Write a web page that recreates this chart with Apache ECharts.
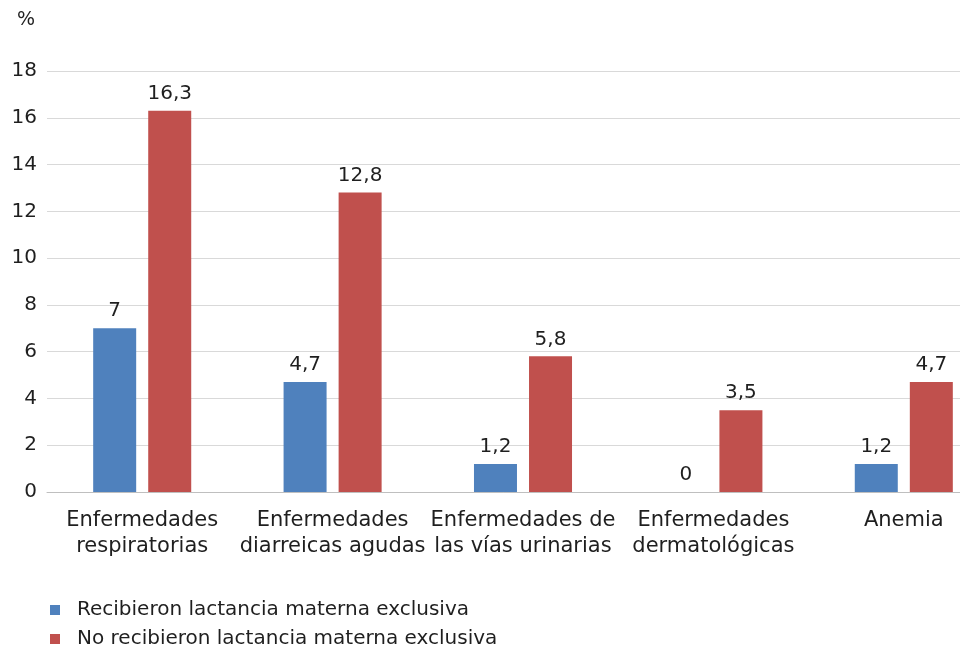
<!DOCTYPE html>
<html>
<head>
<meta charset="utf-8">
<script src="https://cdn.jsdelivr.net/npm/echarts@6/dist/echarts.min.js"></script>
<style>html,body{margin:0;padding:0;background:#fff}#c{width:960px;height:656px}</style>
</head>
<body>
<div id="c"></div>
<script>
const categories = ["Enfermedades\nrespiratorias", "Enfermedades\ndiarreicas agudas", "Enfermedades de\nlas vías urinarias", "Enfermedades\ndermatológicas", "Anemia"];
const seriesNames = ["Recibieron lactancia materna exclusiva", "No recibieron lactancia materna exclusiva"];
const recibieron = [7, 4.7, 1.2, 0, 1.2];
const noRecibieron = [16.3, 12.8, 5.8, 3.5, 4.7];
const yTicks = [0, 2, 4, 6, 8, 10, 12, 14, 16, 18];

const FONT = "DejaVu Sans";
const TXT = "#1f1f1f";
const FS = 20;
const fmt = p => String(p.value).replace('.', ',');

const chart = echarts.init(document.getElementById('c'));
chart.setOption({
  animation: false,
  textStyle: { fontFamily: FONT },
  graphic: [{ type: 'text', left: 17, top: 11, style: { text: '%', font: '19px ' + FONT, fill: TXT } }],
  grid: { left: 47, top: 71, width: 952, height: 421, containLabel: false, outerBoundsMode: 'none' },
  legend: {
    orient: 'vertical', left: 50, top: 600, height: 60, padding: 0, icon: 'rect', itemWidth: 10, itemHeight: 10, itemGap: 9,
    textStyle: { fontFamily: FONT, fontSize: FS, color: TXT, padding: [0, 0, 0, 12] },
    data: seriesNames
  },
  xAxis: {
    type: 'category', data: categories,
    axisLine: { lineStyle: { color: '#bfbfbf' } }, axisTick: { show: false },
    axisLabel: { interval: 0, fontFamily: FONT, fontSize: 21, color: TXT, lineHeight: 26, margin: 16 }
  },
  yAxis: {
    type: 'value', min: yTicks[0], max: yTicks[yTicks.length - 1], interval: 2,
    axisLine: { show: false }, axisTick: { show: false },
    splitLine: { lineStyle: { color: '#d9d9d9' } },
    axisLabel: { fontFamily: FONT, fontSize: FS, color: TXT, margin: 10 }
  },
  series: [
    { name: seriesNames[0], type: 'bar', data: recibieron, barWidth: 43, barGap: '28%',
      itemStyle: { color: '#4F81BD' },
      label: { show: true, position: 'top', distance: 7, fontFamily: FONT, fontSize: FS, color: TXT, formatter: fmt } },
    { name: seriesNames[1], type: 'bar', data: noRecibieron, barWidth: 43,
      itemStyle: { color: '#C0504D' },
      label: { show: true, position: 'top', distance: 7, fontFamily: FONT, fontSize: FS, color: TXT, formatter: fmt } }
  ]
});
</script>
</body>
</html>
